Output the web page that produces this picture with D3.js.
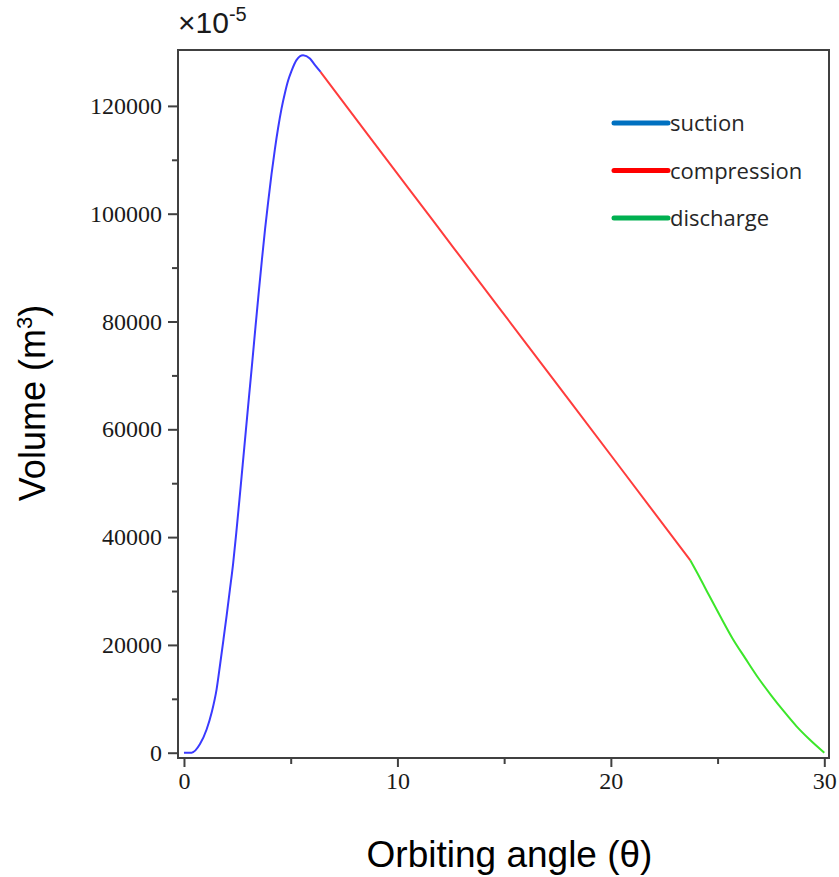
<!DOCTYPE html>
<html>
<head>
<meta charset="utf-8">
<script src="https://cdn.jsdelivr.net/npm/d3@7"></script>
<style>
  html, body { margin: 0; padding: 0; background: #fff; }
  svg { display: block; }
</style>
</head>
<body>
<svg id="chart" width="839" height="877"></svg>
<script>
// ── Data ───────────────────────────────────────────────────
const suctionX = [0, 0.36, 0.75, 1.06, 1.3, 1.53, 1.7, 1.85, 2.0, 2.15, 2.3, 2.45, 2.6, 2.75, 2.9, 3.05, 3.2, 3.35, 3.5, 3.65, 3.8, 3.95, 4.1, 4.26, 4.41, 4.57, 4.73, 4.88, 5.04, 5.27, 5.58, 5.9, 6.13, 6.4];
const suctionV = [0, 0, 1600, 4300, 7500, 11800, 16600, 21000, 25500, 30200, 35000, 40800, 47000, 53400, 59800, 66200, 72500, 79000, 85300, 91400, 97200, 102400, 107300, 112000, 115900, 119500, 122400, 124700, 126500, 128500, 129400, 128800, 127600, 126300];

const compressionX = [6.4, 8.55, 11.67, 14.79, 17.28, 20.4, 23.72];
const compressionV = [126300, 115000, 98700, 82400, 69400, 53100, 35700];

const dischargeX = [23.72, 24.15, 24.6, 25.1, 25.7, 26.3, 26.9, 27.5, 28.1, 28.7, 29.3, 30.0];
const dischargeV = [35700, 32600, 29200, 25500, 21200, 17500, 13900, 10700, 7700, 4900, 2500, 0];

const xMajorTicks = [0, 10, 20, 30];
const xMinorTicks = [5, 15, 25];
const yMajorTicks = [0, 20000, 40000, 60000, 80000, 100000, 120000];
const yMinorTicks = [10000, 30000, 50000, 70000, 90000, 110000];

const legendLabels = ['suction', 'compression', 'discharge'];
const legendColors = ['#0070c0', '#ff0000', '#00b050'];
const lineColors = ['#3a3aff', '#ff3c3c', '#3ce62a'];

// ── Layout ─────────────────────────────────────────────────
const svg = d3.select('#chart');
const plotL = 178, plotR = 829, plotT = 50, plotB = 758;

const x = d3.scaleLinear().domain([-0.28, 30.22]).range([plotL, plotR]);
const y = d3.scaleLinear().domain([-980, 130370]).range([plotB, plotT]);

const axisColor = '#404040';
const tickFont = '"Liberation Serif", "Times New Roman", serif';
const sansFont = '"Liberation Sans", Arial, sans-serif';

// frame
svg.append('rect')
  .attr('x', plotL).attr('y', plotT)
  .attr('width', plotR - plotL).attr('height', plotB - plotT)
  .attr('fill', 'none')
  .attr('stroke', axisColor)
  .attr('stroke-width', 2);

// x axis
const xAxis = d3.axisBottom(x).tickValues(xMajorTicks).tickSize(9).tickPadding(5).tickFormat(d3.format('d'));
const gx = svg.append('g').attr('transform', `translate(0,${plotB})`).call(xAxis);
gx.select('.domain').remove();
gx.selectAll('.tick line').attr('stroke', axisColor).attr('stroke-width', 2);
gx.selectAll('.tick text')
  .attr('font-family', tickFont).attr('font-size', 24).attr('fill', '#1a1a1a');

const xMinor = d3.axisBottom(x).tickValues(xMinorTicks).tickSize(6).tickFormat('');
const gxm = svg.append('g').attr('transform', `translate(0,${plotB})`).call(xMinor);
gxm.select('.domain').remove();
gxm.selectAll('.tick line').attr('stroke', axisColor).attr('stroke-width', 2);

// y axis
const yAxis = d3.axisLeft(y).tickValues(yMajorTicks).tickSize(10).tickPadding(6).tickFormat(d3.format('d'));
const gy = svg.append('g').attr('transform', `translate(${plotL},0)`).call(yAxis);
gy.select('.domain').remove();
gy.selectAll('.tick line').attr('stroke', axisColor).attr('stroke-width', 2);
gy.selectAll('.tick text')
  .attr('font-family', tickFont).attr('font-size', 24).attr('fill', '#1a1a1a');

const yMinor = d3.axisLeft(y).tickValues(yMinorTicks).tickSize(6).tickFormat('');
const gym = svg.append('g').attr('transform', `translate(${plotL},0)`).call(yMinor);
gym.select('.domain').remove();
gym.selectAll('.tick line').attr('stroke', axisColor).attr('stroke-width', 2);

// ── Curves ─────────────────────────────────────────────────
const line = d3.line().x(d => x(d[0])).y(d => y(d[1])).curve(d3.curveMonotoneX);
const series = [
  d3.zip(suctionX, suctionV),
  d3.zip(compressionX, compressionV),
  d3.zip(dischargeX, dischargeV)
];
series.forEach((pts, i) => {
  svg.append('path')
    .datum(pts)
    .attr('d', line)
    .attr('fill', 'none')
    .attr('stroke', lineColors[i])
    .attr('stroke-width', 2)
    .attr('stroke-linejoin', 'round');
});

// ── Legend ─────────────────────────────────────────────────
const legend = svg.append('g').attr('transform', 'translate(614,123)');
legendLabels.forEach((lab, i) => {
  const gi = legend.append('g').attr('transform', `translate(0,${i * 47.5})`);
  gi.append('line')
    .attr('x1', 0).attr('x2', 54)
    .attr('stroke', legendColors[i])
    .attr('stroke-width', 5)
    .attr('stroke-linecap', 'round');
  gi.append('text')
    .attr('x', 56).attr('y', 8)
    .attr('font-family', '"Open Sans", "Noto Sans", sans-serif')
    .attr('font-size', 22)
    .attr('fill', '#262626')
    .text(lab);
});

// ── Titles ─────────────────────────────────────────────────
const mult = svg.append('text')
  .attr('x', 178).attr('y', 33)
  .attr('font-family', sansFont)
  .attr('font-size', 30)
  .attr('fill', '#1a1a1a');
mult.append('tspan').text('×10');
mult.append('tspan').attr('dy', -12).attr('font-size', 20).text('-5');

svg.append('text')
  .attr('x', (plotL + plotR) / 2 + 6).attr('y', 867)
  .attr('text-anchor', 'middle')
  .attr('font-family', sansFont)
  .attr('font-size', 37)
  .attr('fill', '#000')
  .text('Orbiting angle (θ)');

const yt = svg.append('text')
  .attr('transform', 'translate(45,403) rotate(-90)')
  .attr('text-anchor', 'middle')
  .attr('font-family', sansFont)
  .attr('font-size', 36)
  .attr('fill', '#000');
yt.append('tspan').text('Volume (m');
yt.append('tspan').attr('dy', -13).attr('font-size', 22).text('3');
yt.append('tspan').attr('dy', 13).text(')');
</script>
</body>
</html>
